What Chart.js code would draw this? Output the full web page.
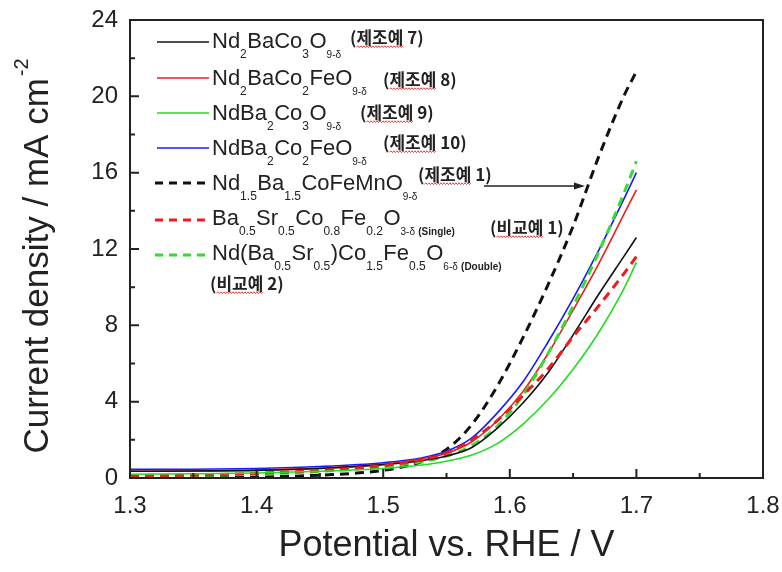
<!DOCTYPE html>
<html><head><meta charset="utf-8">
<script src="https://cdn.jsdelivr.net/npm/chart.js@4.4.1/dist/chart.umd.min.js"></script>
<style>html,body{margin:0;padding:0;background:#fff}</style>
</head><body>
<canvas id="c" width="782" height="572"></canvas>
<script>
// ---------- data ----------
const potential = [1.30, 1.35, 1.40, 1.45, 1.50, 1.53, 1.55, 1.57, 1.59, 1.61, 1.63, 1.65, 1.67, 1.69, 1.70];
const nd2BaCo3O9   = [0.35, 0.37, 0.40, 0.50, 0.70, 0.90, 1.15, 1.60, 2.60, 3.90, 5.50, 7.50, 9.60, 11.6, 12.6];
const nd2BaCo2FeO9 = [0.35, 0.37, 0.42, 0.52, 0.72, 1.00, 1.30, 1.90, 3.00, 4.50, 6.50, 8.80, 11.2, 13.8, 15.1];
const ndBa2Co3O9   = [0.20, 0.22, 0.26, 0.35, 0.50, 0.68, 0.88, 1.20, 1.80, 2.80, 4.10, 5.70, 7.60, 9.90, 11.3];
const ndBa2Co2FeO9 = [0.45, 0.46, 0.50, 0.60, 0.80, 1.05, 1.40, 2.10, 3.40, 5.00, 7.10, 9.40, 11.9, 14.6, 16.0];
const nd15Ba15CoFeMnO9 = [0.00, 0.02, 0.05, 0.15, 0.40, 0.85, 1.50, 2.80, 4.80, 7.30, 10.1, 13.2, 16.8, 20.0, 21.3];
const bscfSingle   = [0.10, 0.15, 0.25, 0.40, 0.65, 0.95, 1.30, 2.00, 3.00, 4.30, 5.70, 7.40, 9.00, 10.7, 11.6];
const ndbscfDouble = [0.10, 0.13, 0.20, 0.35, 0.60, 0.85, 1.15, 1.70, 2.70, 4.30, 6.50, 9.00, 11.8, 14.9, 16.6];

const xTicksMin = 1.3, xTicksMax = 1.8, xStep = 0.1;
const yTicksMin = 0, yTicksMax = 24, yStep = 4;
const xTitle = 'Potential vs. RHE / V';
const yTitle = 'Current density / mA cm';
const yTitleSup = '-2';

// legend labels as rich-text segments: n normal, s subscript, t small subscript, b bold tiny
const label1 = [['Nd','n'],['2','s'],['BaCo','n'],['3','s'],['O','n'],['9-δ','t']];
const label2 = [['Nd','n'],['2','s'],['BaCo','n'],['2','s'],['FeO','n'],['9-δ','t']];
const label3 = [['NdBa','n'],['2','s'],['Co','n'],['3','s'],['O','n'],['9-δ','t']];
const label4 = [['NdBa','n'],['2','s'],['Co','n'],['2','s'],['FeO','n'],['9-δ','t']];
const label5 = [['Nd','n'],['1.5','s'],['Ba','n'],['1.5','s'],['CoFeMnO','n'],['9-δ','t']];
const label6 = [['Ba','n'],['0.5','s'],['Sr','n'],['0.5','s'],['Co','n'],['0.8','s'],['Fe','n'],['0.2','s'],['O','n'],['3-δ','t'],[' (Single)','b']];
const label7 = [['Nd(Ba','n'],['0.5','s'],['Sr','n'],['0.5','s'],[')Co','n'],['1.5','s'],['Fe','n'],['0.5','s'],['O','n'],['6-δ','t'],[' (Double)','b']];
const notes = ['(제조예 7)','(제조예 8)','(제조예 9)','(제조예 10)','(제조예 1)','(비교예 1)','(비교예 2)'];

const FONT = "'Liberation Sans', Arial, sans-serif";
const KFONT = "'Noto Sans CJK KR', sans-serif";

const mk = (ys) => potential.map((x, i) => ({x, y: ys[i]}));
const series = [
  {data: mk(ndBa2Co3O9), color: '#22dd22', dash: []},
  {data: mk(bscfSingle), color: '#ee1c1c', dash: [9, 6]},
  {data: mk(nd2BaCo3O9), color: '#111111', dash: []},
  {data: mk(ndbscfDouble), color: '#33dd33', dash: [9, 6]},
  {data: mk(nd2BaCo2FeO9), color: '#ee1c1c', dash: []},
  {data: mk(ndBa2Co2FeO9), color: '#1a1aff', dash: []},
  {data: mk(nd15Ba15CoFeMnO9), color: '#111111', dash: [9, 6]},
];

const legendRows = [
  {segs: label1, color: '#111111', dash: [], ly: 42, base: 48, note: {x: 350, base: 44}},
  {segs: label2, color: '#ee1c1c', dash: [], ly: 78, base: 85, note: {x: 383, base: 86}},
  {segs: label3, color: '#22dd22', dash: [], ly: 113, base: 120, note: {x: 360, base: 119}},
  {segs: label4, color: '#1a1aff', dash: [], ly: 148, base: 155, note: {x: 383, base: 149}},
  {segs: label5, color: '#111111', dash: [8, 6], ly: 183, base: 190, note: {x: 418, base: 181}},
  {segs: label6, color: '#ee1c1c', dash: [8, 6], ly: 220, base: 225, note: {x: 490, base: 234}},
  {segs: label7, color: '#33dd33', dash: [8, 6], ly: 255, base: 260, note: {x: 210, base: 290}},
];

const STY = {
  n: {size: 22, weight: 'normal', dy: 0},
  s: {size: 12, weight: 'normal', dy: 10},
  t: {size: 10, weight: 'normal', dy: 10},
  b: {size: 10, weight: 'bold', dy: 10},
};

function wavy(ctx, x0, x1, y) {
  ctx.save();
  ctx.strokeStyle = '#e03030'; ctx.lineWidth = 0.9; ctx.setLineDash([]);
  ctx.beginPath();
  let up = true;
  ctx.moveTo(x0, y);
  for (let x = x0 + 1.5; x <= x1; x += 1.5) { ctx.lineTo(x, up ? y - 1.2 : y + 0.6); up = !up; }
  ctx.stroke();
  ctx.restore();
}

const overlay = {
  id: 'overlay',
  afterDatasetsDraw(chart) {
    const {ctx, chartArea: a, scales: {x, y}} = chart;
    ctx.save();
    // box
    ctx.strokeStyle = '#222'; ctx.lineWidth = 2; ctx.setLineDash([]);
    ctx.strokeRect(a.left, a.top, a.right - a.left, a.bottom - a.top);
    // inward ticks
    ctx.lineWidth = 2;
    ctx.beginPath();
    x.ticks.forEach((t, i) => {
      const p = x.getPixelForValue(t.value);
      ctx.moveTo(p, a.bottom); ctx.lineTo(p, a.bottom - 9);
      if (i < x.ticks.length - 1) {
        const m = x.getPixelForValue((t.value + x.ticks[i + 1].value) / 2);
        ctx.moveTo(m, a.bottom); ctx.lineTo(m, a.bottom - 5);
      }
    });
    y.ticks.forEach((t, i) => {
      const p = y.getPixelForValue(t.value);
      ctx.moveTo(a.left, p); ctx.lineTo(a.left + 9, p);
      if (i < y.ticks.length - 1) {
        const m = y.getPixelForValue((t.value + y.ticks[i + 1].value) / 2);
        ctx.moveTo(a.left, m); ctx.lineTo(a.left + 5, m);
      }
    });
    ctx.stroke();

    // legend
    legendRows.forEach((r, idx) => {
      ctx.save();
      ctx.strokeStyle = r.color;
      ctx.lineWidth = r.dash.length ? 3 : 1.6;
      ctx.setLineDash(r.dash);
      ctx.beginPath();
      ctx.moveTo(r.dash.length ? 155 : 157, r.ly); ctx.lineTo(209, r.ly);
      ctx.stroke();
      ctx.restore();
      let cx = 212;
      ctx.fillStyle = '#222';
      ctx.textBaseline = 'alphabetic'; ctx.textAlign = 'left';
      r.segs.forEach(([txt, st]) => {
        const s = STY[st];
        ctx.font = `${s.weight} ${s.size}px ${FONT}`;
        ctx.fillText(txt, cx, r.base + s.dy);
        cx += ctx.measureText(txt).width + (st === 'n' ? 0 : 0.5);
      });
      // korean note
      const note = notes[idx];
      ctx.font = `bold 17px ${KFONT}`;
      ctx.fillText(note, r.note.x, r.note.base);
      const wOpen = ctx.measureText('(').width;
      const wWord = ctx.measureText(note.slice(1, 4)).width;
      wavy(ctx, r.note.x + wOpen, r.note.x + wOpen + wWord, r.note.base + 3);
    });

    // arrow from legend to the dashed curve
    ctx.strokeStyle = '#222'; ctx.fillStyle = '#222'; ctx.lineWidth = 1.3; ctx.setLineDash([]);
    ctx.beginPath(); ctx.moveTo(484, 186); ctx.lineTo(576, 186); ctx.stroke();
    ctx.beginPath(); ctx.moveTo(585, 186); ctx.lineTo(574, 182.5); ctx.lineTo(574, 189.5); ctx.closePath(); ctx.fill();

    // y title with superscript
    ctx.save();
    ctx.translate(38, 257);
    ctx.rotate(-Math.PI / 2);
    ctx.fillStyle = '#222';
    ctx.font = `35px ${FONT}`;
    const w1 = ctx.measureText(yTitle).width;
    ctx.font = `20px ${FONT}`;
    const w2 = ctx.measureText(yTitleSup).width;
    const start = -(w1 + w2) / 2;
    ctx.textBaseline = 'middle'; ctx.textAlign = 'left';
    ctx.font = `35px ${FONT}`;
    ctx.fillText(yTitle, start, 0);
    ctx.font = `20px ${FONT}`;
    ctx.fillText(yTitleSup, start + w1 + 2, -16);
    ctx.restore();

    ctx.restore();
  }
};

new Chart(document.getElementById('c'), {
  type: 'line',
  data: {
    datasets: series.map(s => ({
      data: s.data, borderColor: s.color, backgroundColor: s.color,
      borderWidth: s.dash.length ? 3 : 1.6, borderDash: s.dash,
      pointRadius: 0, cubicInterpolationMode: 'monotone', fill: false
    }))
  },
  options: {
    responsive: false, animation: false,
    layout: {padding: {top: 20, right: 19, left: 0, bottom: 0}},
    plugins: {legend: {display: false}, tooltip: {enabled: false}},
    scales: {
      x: {
        type: 'linear', min: xTicksMin, max: xTicksMax,
        border: {display: false},
        grid: {display: false, drawTicks: true, tickLength: 14},
        ticks: {stepSize: xStep, padding: 0, color: '#222', autoSkip: false, maxRotation: 0,
                font: {family: FONT, size: 24}, callback: v => Number(v).toFixed(1)},
        title: {display: true, text: xTitle, color: '#222', font: {family: FONT, size: 36, lineHeight: 1}, padding: {top: 0, bottom: 8}},
        afterFit(s) { s.height = 94; }
      },
      y: {
        type: 'linear', min: yTicksMin, max: yTicksMax,
        border: {display: false},
        grid: {display: false, drawTicks: true, tickLength: 12},
        ticks: {stepSize: yStep, padding: 0, color: '#222', font: {family: FONT, size: 24}},
        afterFit(s) { s.width = 130; }
      }
    }
  },
  plugins: [overlay]
});
</script>
</body></html>
